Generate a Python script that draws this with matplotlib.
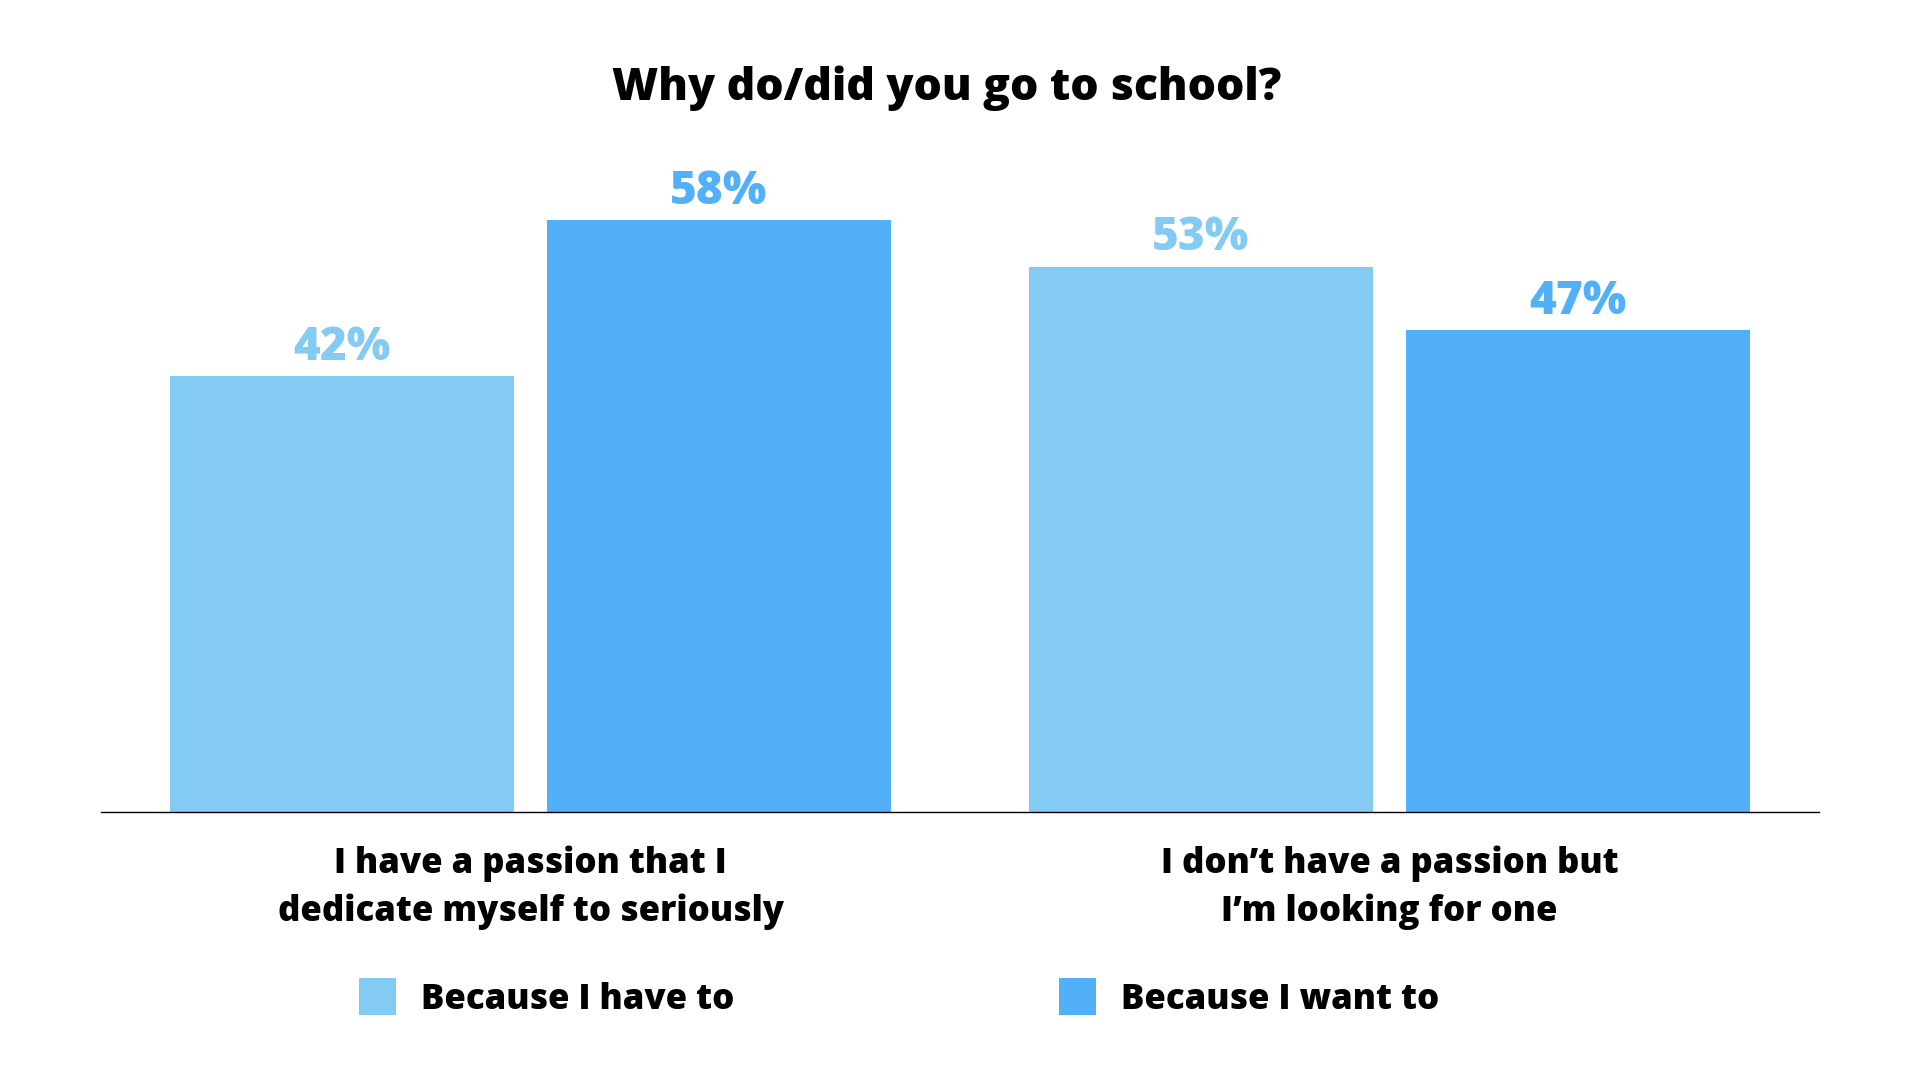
import matplotlib
matplotlib.use("Agg")
import matplotlib.pyplot as plt
from matplotlib.patches import Rectangle
import numpy as np

plt.rcParams['font.family'] = ['Open Sans', 'DejaVu Sans']

title = "Why do/did you go to school?"
categories = ["I have a passion that I\ndedicate myself to seriously",
              "I don\u2019t have a passion but\nI\u2019m looking for one"]
series_names = ["Because I have to", "Because I want to"]
have_to = [42.4, 53.1]
want_to = [57.6, 46.9]
colors = ["#84CBF3", "#52B0F9"]

W, H = 1920, 1080
FW = 800
fig = plt.figure(figsize=(19.2, 10.8), dpi=100)
ax = fig.add_axes([101 / W, 268 / H, 1718 / W, 719 / H])

x = np.arange(len(categories))
bw = 0.4
off = 0.2195
b1 = ax.bar(x - off, have_to, width=bw, color=colors[0], zorder=2)
b2 = ax.bar(x + off, want_to, width=bw, color=colors[1], zorder=2)

for bars, vals, c in ((b1, have_to, colors[0]), (b2, want_to, colors[1])):
    for rect, v in zip(bars, vals):
        ax.annotate(f"{round(v)}%", (rect.get_x() + rect.get_width() / 2, v),
                    xytext=(0, 4), textcoords="offset points",
                    ha="center", va="bottom", fontsize=33, fontweight=FW,
                    color=c)

ax.set_xlim(-0.5, 1.5)
ax.set_ylim(0, 70)
ax.set_yticks([])
ax.set_xticks(x)
ax.set_xticklabels(categories, fontsize=25, fontweight=FW, color="black",
                   linespacing=1.42)
ax.tick_params(axis="x", length=0, pad=24)
for s in ("top", "right", "left"):
    ax.spines[s].set_visible(False)
ax.spines["bottom"].set_linewidth(1.0)
ax.spines["bottom"].set_color("black")
ax.spines["bottom"].set_zorder(3)

fig.text(947 / W, 1 - 88 / H, title, ha="center", va="center",
         fontsize=32, fontweight=FW, color="black")

# legend
leg_items = [(359, series_names[0], colors[0]), (1059, series_names[1], colors[1])]
for xp, name, c in leg_items:
    fig.add_artist(Rectangle((xp / W, 1 - 1015 / H), 37 / W, 37 / H,
                             transform=fig.transFigure, color=c, lw=0))
    fig.text((xp + 62) / W, 1 - 1000 / H, name, ha="left", va="center",
             fontsize=25, fontweight=FW, color="black")

fig.savefig("out.png", dpi=100, facecolor="white")
